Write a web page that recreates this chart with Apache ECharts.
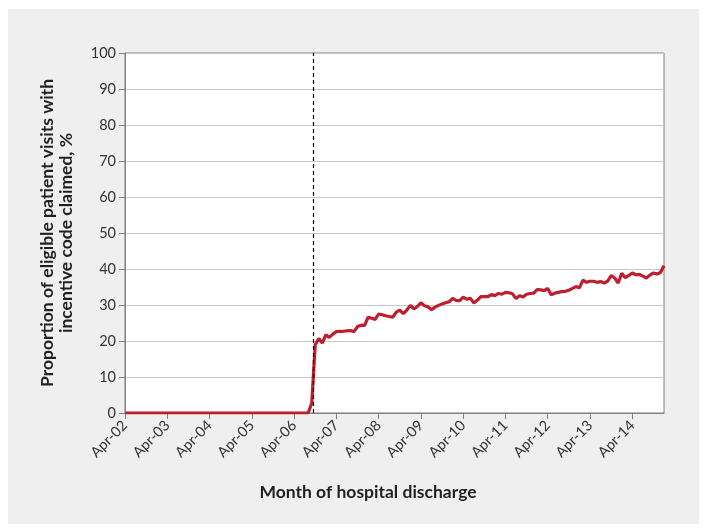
<!DOCTYPE html>
<html>
<head>
<meta charset="utf-8">
<script src="https://cdn.jsdelivr.net/npm/echarts@6/dist/echarts.min.js"></script>
<style>html,body{margin:0;padding:0;background:#fff}#c{width:707px;height:532px}</style>
</head>
<body>
<div id="c"></div>
<script>
// Tick labels on the x axis (one every 12 months, starting Apr-02)
const tickLabels = ['Apr-02','Apr-03','Apr-04','Apr-05','Apr-06','Apr-07','Apr-08','Apr-09','Apr-10','Apr-11','Apr-12','Apr-13','Apr-14'];
// Monthly proportion (%) from Apr-02 onward
const claimedPct = [
  0,0,0,0,0,0,0,0,0,0, 0,0,0,0,0,0,0,0,0,0,
  0,0,0,0,0,0,0,0,0,0, 0,0,0,0,0,0,0,0,0,0,
  0,0,0,0,0,0,0,0,0,0, 0,0,0,
  2.7,19.0,20.7,19.4,21.7,21.0,21.9,22.6,22.7,22.7,
  22.8,22.9,22.6,24.0,24.4,24.3,26.6,26.3,26.0,27.5,
  27.3,27.0,26.8,26.6,28.0,28.6,27.6,28.6,29.9,28.9,
  29.6,30.6,29.8,29.5,28.7,29.4,29.9,30.3,30.6,30.9,
  31.8,31.3,31.2,32.2,31.6,31.9,30.6,31.3,32.3,32.3,
  32.3,32.9,32.6,33.2,33.0,33.5,33.4,33.1,31.8,32.6,
  32.2,33.0,33.2,33.3,34.3,34.2,34.0,34.6,32.8,33.3,
  33.5,33.7,33.8,34.1,34.6,35.1,34.8,36.9,36.3,36.6,
  36.6,36.3,36.5,36.1,36.6,38.2,37.5,36.1,38.8,37.6,
  38.2,38.9,38.4,38.5,38.0,37.5,38.3,38.9,38.6,39.0,
  40.9
];
// Policy introduction marker (month index from Apr-02)
const policyMonth = [53.5];
const yTicks = [0,10,20,30,40,50,60,70,80,90,100];

const chart = echarts.init(document.getElementById('c'), null, {renderer:'canvas'});
const FONT = 'Lato, "Noto Sans", sans-serif';
const tickPos = tickLabels.map((_, k) => k * 12);
chart.setOption({
  animation: false,
  graphic: [
    {type:'rect', z:-10, shape:{x:8, y:9, width:691, height:515}, style:{fill:'#eeefee'}},
    {type:'text', x:368, y:492, style:{text:'Month of hospital discharge', align:'center', verticalAlign:'middle', font:'bold 17.5px ' + FONT, fill:'#231f20'}}
  ],
  grid: {left:125, right:43, top:53, bottom:119, show:true, backgroundColor:'#ffffff', borderColor:'#808080', borderWidth:1},
  xAxis: {
    type:'value', min:0, max:claimedPct.length - 1,
    axisLine:{show:true, lineStyle:{color:'#808080', width:1}},
    axisTick:{show:true, length:6, inside:false, customValues: tickPos, lineStyle:{color:'#808080'}},
    splitLine:{show:false},
    axisLabel:{customValues: tickPos, rotate:45, margin:10, fontSize:14.5, color:'#333', fontFamily:FONT,
      formatter: v => tickLabels[Math.round(v/12)] || ''}
  },
  yAxis: {
    type:'value', min:yTicks[0], max:yTicks[yTicks.length-1], interval:10,
    name:'Proportion of eligible patient visits with\nincentive code claimed, %',
    nameLocation:'middle', nameGap:49, nameRotate:90,
    nameTextStyle:{fontSize:17.5, fontWeight:'bold', color:'#231f20', fontFamily:FONT, lineHeight:19, align:'center'},
    axisLine:{show:true, lineStyle:{color:'#808080', width:1}},
    axisTick:{show:true, length:6, lineStyle:{color:'#808080'}},
    splitLine:{show:true, lineStyle:{color:'#c8c8c8', width:1}},
    axisLabel:{fontSize:14.5, color:'#333', margin:9, fontFamily:FONT}
  },
  series: [{
    type:'line',
    data: claimedPct.map((v, i) => [i, v]),
    showSymbol:false,
    lineStyle:{color:'#be1e2d', width:3.2},
    itemStyle:{color:'#be1e2d'},
    z:3,
    markLine:{
      silent:true, symbol:['none','none'], label:{show:false},
      lineStyle:{color:'#000', type:[4,3], width:1.2},
      data: policyMonth.map(m => ({xAxis:m}))
    }
  }]
});
</script>
</body>
</html>
